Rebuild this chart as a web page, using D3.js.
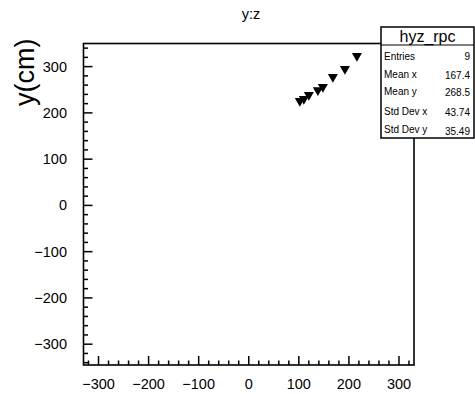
<!DOCTYPE html>
<html><head><meta charset="utf-8">
<script src="https://cdn.jsdelivr.net/npm/d3@7"></script>
<style>
body{margin:0;background:#fff;}
svg{display:block;font-family:"Liberation Sans",Arial,sans-serif;}
</style></head>
<body>
<svg id="c" width="475" height="394"></svg>
<script>
// Data (z in cm, y in cm)
const zValues = [102, 110, 120, 138, 148, 168, 192, 216, 275];
const yValues = [226, 230, 239, 249, 256, 278, 295, 323, 325];
const xTicks = [-300, -200, -100, 0, 100, 200, 300];
const yTicks = [-300, -200, -100, 0, 100, 200, 300];
const statLabels = ["Entries", "Mean x", "Mean y", "Std Dev x", "Std Dev y"];
const statValues = ["9", "167.4", "268.5", "43.74", "35.49"];
const histTitle = "y:z";
const statsName = "hyz_rpc";
const yTitle = "y(cm)";

const svg = d3.select("#c");
const L = 83.5, R = 414, T = 43.5, B = 365;
const x = d3.scaleLinear().domain([-330, 330]).range([L, R]);
const y = d3.scaleLinear().domain([-345, 350]).range([B, T]);

const xMinor = d3.range(-320, 331, 20);
const yMinor = d3.range(-340, 351, 20);

const g = svg.append("g");
g.selectAll(".xm").data(xMinor).join("line")
  .attr("x1", d => x(d)).attr("x2", d => x(d))
  .attr("y1", B).attr("y2", d => B - (d % 100 === 0 ? 9 : 4.5))
  .attr("stroke", "#000").attr("stroke-width", 1.5);
g.selectAll(".ym").data(yMinor).join("line")
  .attr("y1", d => y(d)).attr("y2", d => y(d))
  .attr("x1", L).attr("x2", d => L + (d % 100 === 0 ? 9 : 4.5))
  .attr("stroke", "#000").attr("stroke-width", 1.5);

g.selectAll(".xl").data(xTicks).join("text")
  .attr("x", d => x(d)).attr("y", 389)
  .attr("text-anchor", "middle").attr("font-size", 14.5)
  .text(d => d < 0 ? "\u2212" + Math.abs(d) : d);
g.selectAll(".yl").data(yTicks).join("text")
  .attr("x", 67).attr("y", d => y(d) + 5)
  .attr("text-anchor", "end").attr("font-size", 14.5)
  .text(d => d < 0 ? "\u2212" + Math.abs(d) : d);

// markers (inverted triangles)
const tri = d3.symbol().type(d3.symbolTriangle).size(44);
svg.append("g").selectAll("path").data(zValues.map((z, i) => [z, yValues[i]])).join("path")
  .attr("d", tri)
  .attr("transform", d => `translate(${x(d[0])},${y(d[1])}) rotate(180)`)
  .attr("fill", "#000");

svg.append("rect").attr("x", L).attr("y", T).attr("width", R - L).attr("height", B - T)
  .attr("fill", "none").attr("stroke", "#000").attr("stroke-width", 1.6);

svg.append("text").attr("x", 251).attr("y", 19).attr("text-anchor", "middle")
  .attr("font-size", 14.5).text(histTitle);

svg.append("text").attr("transform", "translate(34,106) rotate(-90)")
  .attr("text-anchor", "start").attr("font-size", 27).text(yTitle);

const sb = svg.append("g");
sb.append("rect").attr("x", 381).attr("y", 27).attr("width", 93).attr("height", 111)
  .attr("fill", "#fff").attr("stroke", "#000").attr("stroke-width", 1.5);
sb.append("line").attr("x1", 381).attr("x2", 474).attr("y1", 45).attr("y2", 45)
  .attr("stroke", "#000").attr("stroke-width", 1);
sb.append("text").attr("x", 427.5).attr("y", 42).attr("text-anchor", "middle")
  .attr("font-size", 16).text(statsName);
const rowY = [60, 78, 95, 115, 133];
const valY = [60, 79, 96, 116, 135];
sb.selectAll(".sl").data(statLabels).join("text")
  .attr("x", 384).attr("y", (d, i) => rowY[i]).attr("font-size", 10).text(d => d);
sb.selectAll(".sv").data(statValues).join("text")
  .attr("x", 470).attr("y", (d, i) => valY[i]).attr("text-anchor", "end")
  .attr("font-size", 10).text(d => d);
</script>
</body></html>
